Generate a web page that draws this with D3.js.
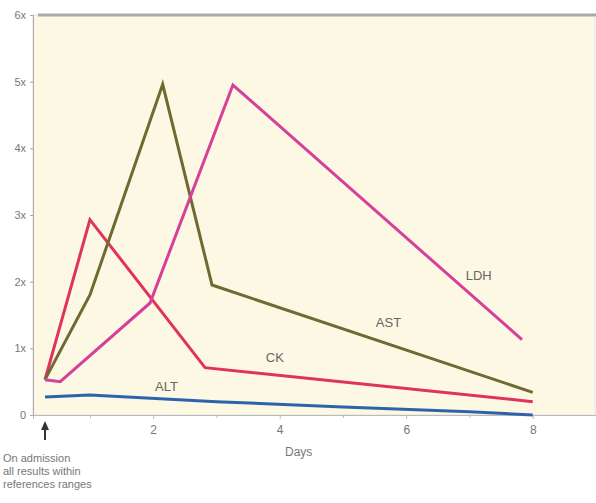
<!DOCTYPE html>
<html><head><meta charset="utf-8">
<script src="https://cdn.jsdelivr.net/npm/d3@7"></script>
<style>body{margin:0;background:#fff}svg{display:block}text{font-family:"Liberation Sans",Arial,sans-serif}</style>
</head><body><svg id="c" width="596" height="503"></svg>
<script>
const yTicks = [0,1,2,3,4,5,6];
const yTickLabels = ["0","1x","2x","3x","4x","5x","6x"];
const xMajor = [2,4,6,8];
const xMinor = [1,3,5,7];
const ALT = [[0.29,0.27],[1,0.3],[3,0.2],[5,0.12],[7,0.05],[8,0.0]];
const CK  = [[0.29,0.53],[1,2.93],[2.82,0.71],[8,0.2]];
const AST = [[0.29,0.53],[1,1.8],[2.15,4.96],[2.93,1.95],[8,0.34]];
const LDH = [[0.29,0.53],[0.53,0.5],[1.95,1.68],[3.26,4.95],[7.83,1.13]];
const seriesNames = ["ALT","CK","AST","LDH"];
const seriesColors = ["#2f62ad","#e0335a","#6f6a32","#d6409a"];
const labelPos = [[2.03,0.36],[3.78,0.8],[5.52,1.32],[6.94,2.03]];

const svg = d3.select("#c");
const x = d3.scaleLinear().domain([0.1,9]).range([33,596]);
const y = d3.scaleLinear().domain([0,6]).range([415,15]);

svg.append("rect").attr("x",x(0.1)).attr("y",y(6)).attr("width",x(9)-x(0.1)-1).attr("height",y(0)-y(6))
  .attr("fill","#fdf8e3").attr("stroke","#ddd").attr("stroke-width",0.8);
svg.append("line").attr("x1",38).attr("x2",596).attr("y1",y(6)).attr("y2",y(6)).attr("stroke","#a9a9a9").attr("stroke-width",3);

const ya = svg.append("g").attr("transform",`translate(${x(0.1)},0)`)
  .call(d3.axisLeft(y).tickValues(yTicks).tickFormat((d,i)=>yTickLabels[i]).tickSize(3).tickPadding(4));
ya.select(".domain").attr("stroke","#aaa");
ya.selectAll(".tick line").attr("stroke","#aaa");
ya.selectAll("text").attr("fill","#777").style("font-size","11px");

const xa = svg.append("g").attr("transform",`translate(0,${y(0)})`)
  .call(d3.axisBottom(x).tickValues(xMajor).tickFormat(d3.format("d")).tickSize(4).tickPadding(6));
xa.select(".domain").attr("stroke","#bbb");
xa.selectAll(".tick line").attr("stroke","#bbb");
xa.selectAll("text").attr("fill","#777").style("font-size","12px");
svg.append("g").attr("transform",`translate(0,${y(0)})`)
  .call(d3.axisBottom(x).tickValues(xMinor).tickFormat("").tickSize(3))
  .call(g=>{g.select(".domain").remove();g.selectAll("line").attr("stroke","#bbb");});

svg.append("text").attr("x",x(4.3)).attr("y",456).attr("text-anchor","middle").attr("fill","#777").style("font-size","12px").text("Days");

const line = d3.line().x(d=>x(d[0])).y(d=>y(d[1]));
[ALT,CK,AST,LDH].forEach((s,i)=>{
  svg.append("path").datum(s).attr("d",line).attr("fill","none").attr("stroke",seriesColors[i])
    .attr("stroke-width",3).attr("stroke-linejoin","miter");
});
seriesNames.forEach((n,i)=>{
  svg.append("text").attr("x",x(labelPos[i][0])).attr("y",y(labelPos[i][1])).attr("fill","#666")
    .style("font-size","13px").text(n);
});

// admission arrow
const ax = x(0.29);
svg.append("line").attr("x1",ax).attr("x2",ax).attr("y1",428).attr("y2",440).attr("stroke","#333").attr("stroke-width",2);
svg.append("path").attr("d",`M${ax-4},${430} L${ax},${421} L${ax+4},${430} Z`).attr("fill","#333");
const note = ["On admission","all results within","references ranges"];
note.forEach((t,i)=>svg.append("text").attr("x",3).attr("y",462+i*13).attr("fill","#777").style("font-size","11px").text(t));
</script></body></html>
